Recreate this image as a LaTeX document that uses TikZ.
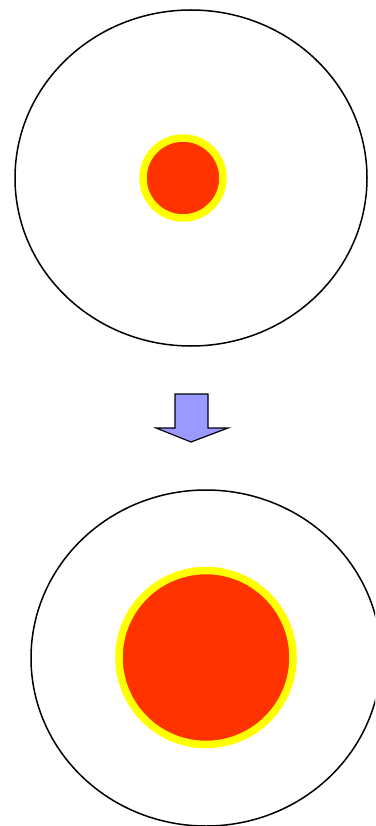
\documentclass[tikz,border=0pt]{standalone}
\definecolor{core}{HTML}{FF3300}
\definecolor{ring}{HTML}{FFFF00}
\definecolor{arrowfill}{HTML}{9999FF}
\tikzset{
  outer/.style={draw=black, line width=1.5pt},
  nucleus/.style={fill=core, draw=ring, line width=7.5pt},
  blockarrow/.style={fill=arrowfill, draw=black, line width=1.2pt, line join=miter}
}
\begin{document}
\begin{tikzpicture}[x=1pt,y=-1pt]
\useasboundingbox (0,0) rectangle (375,826);
\begin{scope}
\clip (0,0) rectangle (375,826);
% top
\draw[outer] (191,178) ellipse [x radius=176, y radius=168];
\draw[nucleus] (183,178) circle [radius=40];
% arrow
\draw[blockarrow] (175,394) -- (208,394) -- (208,428) -- (228,428) -- (191,442) -- (156,428) -- (175,428) -- cycle;
% bottom
\draw[outer] (206,658) ellipse [x radius=175, y radius=168];
\draw[nucleus] (206,657.5) circle [radius=87];
\end{scope}
\end{tikzpicture}
\end{document}
